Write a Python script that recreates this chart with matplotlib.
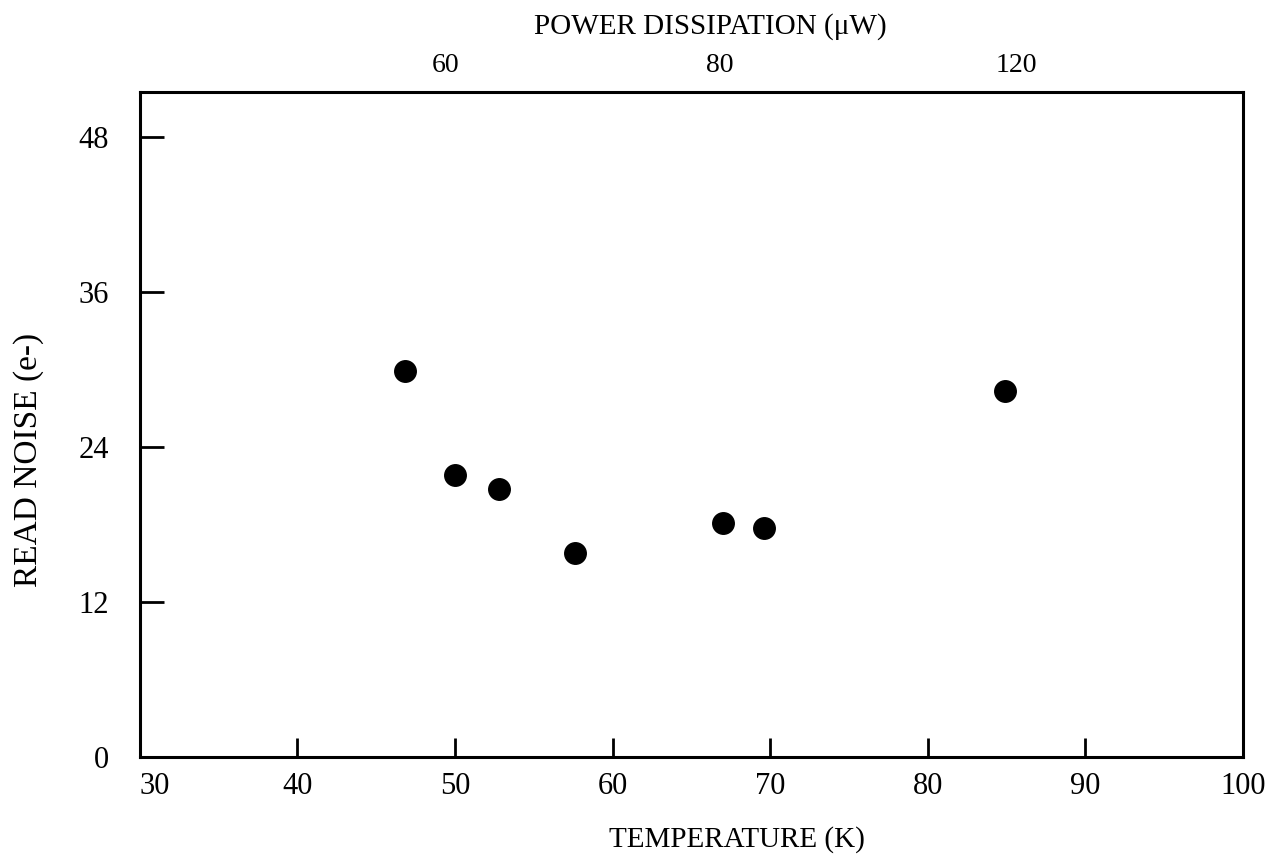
import matplotlib
matplotlib.use("Agg")
import matplotlib.pyplot as plt

plt.rcParams['font.family'] = ['Liberation Serif', 'DejaVu Serif']

# read noise vs temperature
temperature = [46.8, 50.0, 52.8, 57.6, 67.0, 69.6, 84.9]
read_noise = [29.9, 21.8, 20.7, 15.8, 18.1, 17.7, 28.3]

# top axis: power dissipation labels placed at temperature positions
power_pos = [49.4, 66.8, 85.6]
power_labels = ['60', '80', '120']

x_ticks = [30, 40, 50, 60, 70, 80, 90, 100]
y_ticks = [0, 12, 24, 36, 48]

fig = plt.figure(figsize=(12.71, 8.57), dpi=100)
ax = fig.add_axes([0.110, 0.117, 0.868, 0.776])

ax.scatter(temperature, read_noise, s=240, c='black', zorder=3)

ax.set_xlim(30, 100)
ax.set_ylim(0, 51.5)
ax.set_xticks(x_ticks)
ax.set_yticks(y_ticks)
ax.tick_params(axis='x', direction='in', length=14, width=2, labelsize=22, pad=11)
ax.tick_params(axis='y', direction='in', length=17, width=2, labelsize=22, pad=22)
for s in ax.spines.values():
    s.set_linewidth(2.2)
# first x label sits just right of the y axis
ax.get_xticklabels()[0].set_horizontalalignment('left')

ax.set_xlabel('TEMPERATURE (K)', fontsize=21)
ax.xaxis.set_label_coords(0.541, -0.105)
ax.set_ylabel('READ NOISE (e-)', fontsize=24)
ax.yaxis.set_label_coords(-0.087, 0.447)

top = ax.twiny()
top.set_xlim(ax.get_xlim())
top.set_xticks(power_pos)
top.set_xticklabels(power_labels)
top.tick_params(axis='x', length=0, labelsize=20, pad=10)
top.set_xlabel('POWER DISSIPATION (\u03bcW)', fontsize=21)
top.xaxis.set_label_coords(0.517, 1.087)

fig.savefig('out.png', dpi=100)
